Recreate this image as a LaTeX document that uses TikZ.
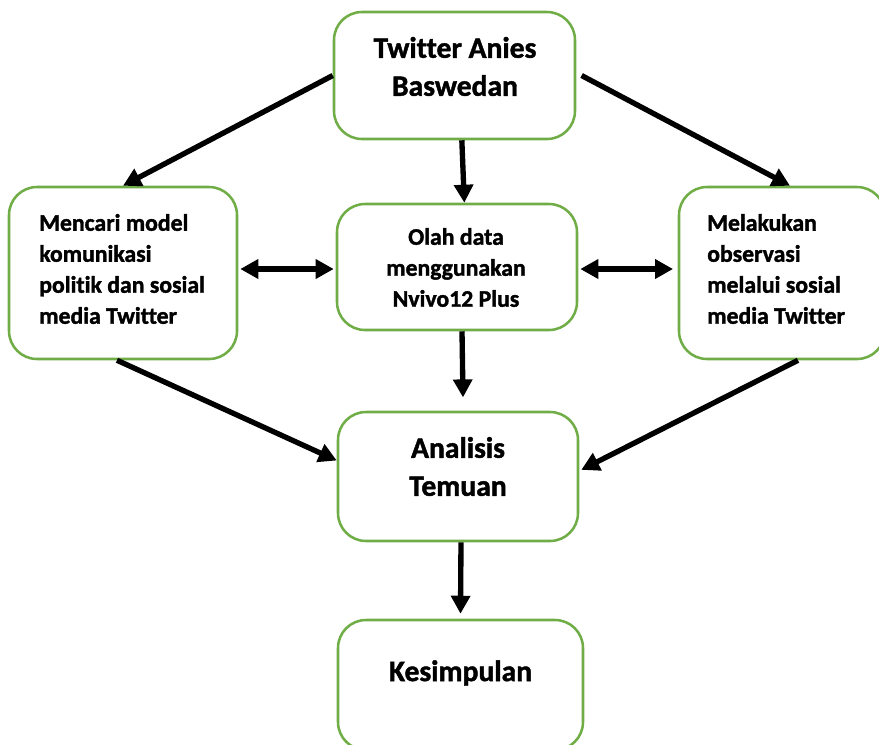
\documentclass[tikz,border=0pt]{standalone}
\usepackage{fontspec}
\setmainfont{Carlito}[BoldFont={Carlito Bold},BoldFeatures={FakeBold=1.5},Ligatures=NoCommon]
\usetikzlibrary{arrows.meta}
\definecolor{boxgreen}{RGB}{112,173,71}

\begin{document}
\begin{tikzpicture}[x=0.75pt,y=-0.75pt,
		box/.style={draw=boxgreen,line width=1.9pt,rounded corners=21pt,fill=white},
		arr/.style={line width=4pt,-{Triangle[length=13.5pt,width=14pt]}},
		biarr/.style={line width=4pt,{Triangle[length=13.5pt,width=14pt]}-{Triangle[length=13.5pt,width=14pt]}},
		bigtxt/.style={inner sep=0pt,align=center,font=\fontsize{22.2}{28.5}\selectfont\bfseries},
		smalltxt/.style={inner sep=0pt,font=\fontsize{17.8}{23.25}\selectfont\bfseries}]
		\useasboundingbox (0,0) rectangle (879,744);

		% boxes
		\node[box,minimum width=180.75pt,minimum height=95.25pt] (tw) at (454.5,75.5) {};
		\node[box,minimum width=171pt,minimum height=129pt] (cari) at (123,273) {};
		\node[box,minimum width=180pt,minimum height=94.5pt] (olah) at (457,267) {};
		\node[box,minimum width=154.5pt,minimum height=129pt] (obs) at (782,273) {};
		\node[box,minimum width=180pt,minimum height=96.75pt] (ana) at (458,476.5) {};
		\node[box,minimum width=183.75pt,minimum height=97.5pt] (kes) at (460.5,685) {};

		% texts
		\node[bigtxt] (tw-txt) at (455,66.5) {Twitter Anies\\Baswedan};
		\node[smalltxt,align=left,anchor=west] (cari-txt) at (39,269) {Mencari model\\komunikasi\\politik dan sosial\\media Twitter};
		\node[smalltxt,align=center] (olah-txt) at (456,267.5) {Olah data\\menggunakan\\Nvivo12 Plus};
		\node[smalltxt,align=left,anchor=west] (obs-txt) at (707,269) {Melakukan\\observasi\\melalui sosial\\media Twitter};
		\node[bigtxt] (ana-txt) at (458,466.5) {Analisis\\Temuan};
		\node[bigtxt] (kes-txt) at (460.5,673) {Kesimpulan};

		% arrows
		\draw[arr] (tw.west) -- (cari.north);
		\draw[arr] ([xshift=4pt]tw.east) -- ([xshift=6pt]obs.north);
		\draw[arr] ([xshift=5.5pt]tw.south) -- ([xshift=5.5pt]olah.north);
		\draw[biarr] ([xshift=1.5pt,yshift=-1.5pt]cari.east |- olah.west) -- ([xshift=-1.5pt,yshift=-1.5pt]olah.west);
		\draw[biarr] ([xshift=1.5pt,yshift=-1.5pt]olah.east) -- ([xshift=-3.5pt,yshift=-1.5pt]olah.east -| obs.west);
		\draw[arr] ([xshift=3.75pt]olah.south) -- ([xshift=3.75pt,yshift=10pt]ana.north);
		\draw[arr] ([xshift=-4.5pt]cari.south) -- ([yshift=12pt]ana.west);
		\draw[arr] ([xshift=12pt]obs.south) -- ([xshift=1.5pt,yshift=5pt]ana.east);
		\draw[arr] ([xshift=2.25pt]ana.south) -- ([yshift=3.75pt]kes.north);
\end{tikzpicture}
\end{document}
